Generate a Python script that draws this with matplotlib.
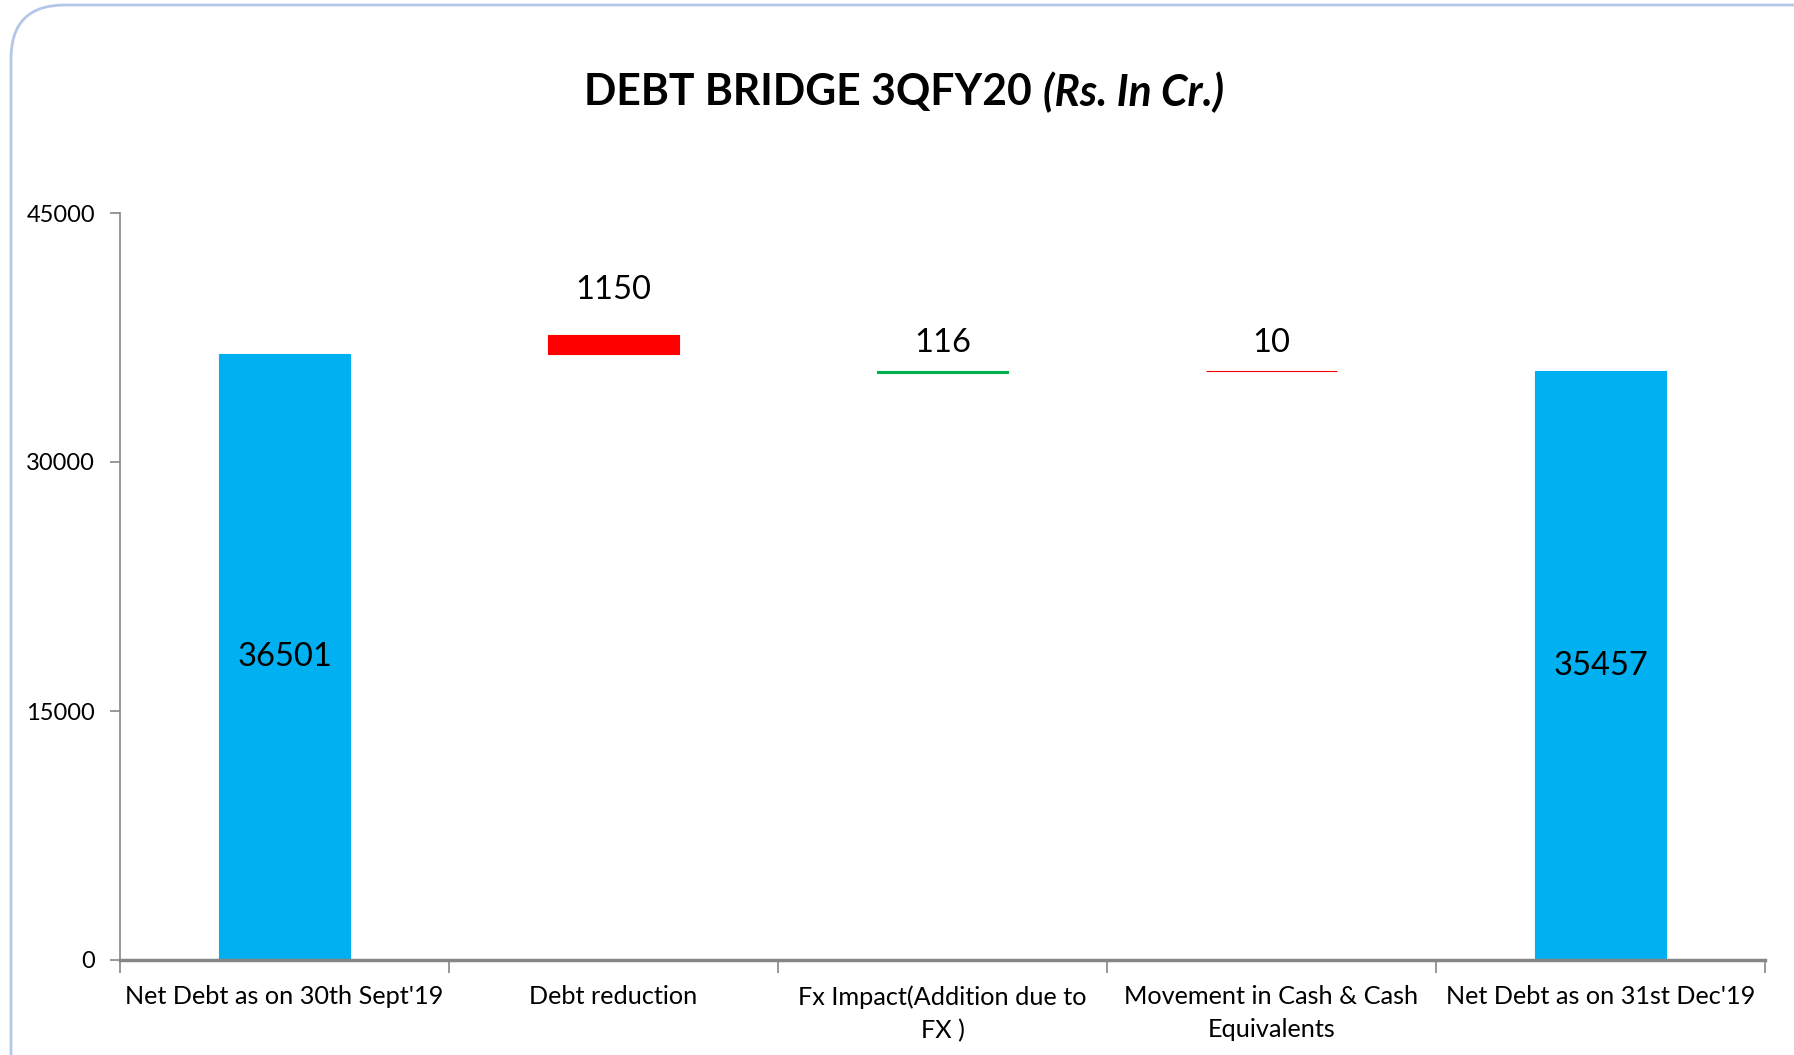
import matplotlib
matplotlib.use("Agg")
import matplotlib.pyplot as plt
from matplotlib.patches import FancyBboxPatch

categories = ["Net Debt as on 30th Sept'19", "Debt reduction",
              "Fx Impact(Addition due to\nFX )", "Movement in Cash & Cash\nEquivalents",
              "Net Debt as on 31st Dec'19"]
values = [36501, 1150, 116, 10, 35457]
bases = [0, 36501, 35351, 35457, 0]
colors = ["#00B0F0", "#FF0000", "#00B050", "#FF0000", "#00B0F0"]
yticks = [0, 15000, 30000, 45000]

plt.rcParams['font.family'] = ['Lato', 'DejaVu Sans']

fig = plt.figure(figsize=(17.94, 10.55), dpi=100)
W, H = 1794, 1055

# rounded border
border = FancyBboxPatch((11 / W, -0.2), 1.2, 1.2 - 5 / H,
                        boxstyle="round,pad=0,rounding_size=0.03",
                        transform=fig.transFigure, fill=False,
                        edgecolor="#B4C7E7", linewidth=2, mutation_aspect=W / H)
fig.patches.append(border)

ax = fig.add_axes([120 / W, 1 - 960 / H, (1765 - 120) / W, (960 - 213) / H])
x = list(range(len(categories)))
ax.bar(x, values, bottom=bases, width=0.40, color=colors, edgecolor=colors,
       linewidth=0.8)

ax.set_xlim(-0.5, 4.5)
ax.set_ylim(0, 45000)
ax.set_yticks(yticks)
ax.set_yticklabels([str(v) for v in yticks], fontsize=17)
ax.set_xticks(x)
ax.set_xticklabels(categories, fontsize=18.2, linespacing=1.55)
ax.set_xticks([i - 0.5 for i in range(6)], minor=True)
ax.tick_params(axis='x', which='major', length=0, pad=18)
ax.tick_params(axis='x', which='minor', length=9, width=1.2, color="#868686")
ax.tick_params(axis='y', length=7, width=1.2, color="#868686", pad=11)
for s in ['top', 'right']:
    ax.spines[s].set_visible(False)
ax.spines['left'].set_color("#868686")
ax.spines['left'].set_linewidth(1.2)
ax.spines['bottom'].set_color("#868686")
ax.spines['bottom'].set_linewidth(2.5)

# labels
for i in [0, 4]:
    ax.text(x[i], bases[i] + values[i] / 2, str(values[i]), ha='center', va='center',
            fontsize=23.5)
offs = {1: 45, 2: 28, 3: 28}
for i, o in offs.items():
    ax.annotate(str(values[i]), (x[i], bases[i] + values[i]), xytext=(0, o * 0.72),
                textcoords='offset points', ha='center', va='center', fontsize=23.5)

# title in two parts: bold + bold italic
renderer = fig.canvas.get_renderer()
t1 = fig.text(0, 1 - 92 / H, "DEBT BRIDGE 3QFY20 ", ha='left', va='center',
              fontsize=30.7, fontweight='bold')
t2 = fig.text(0, 1 - 92 / H, "(Rs. In Cr.)", ha='left', va='center',
              fontsize=30.7, fontweight='bold', fontstyle='italic')
w1 = t1.get_window_extent(renderer).width
w2 = t2.get_window_extent(renderer).width
cx = 904
start = cx - (w1 + w2) / 2
t1.set_x(start / W)
t2.set_x((start + w1) / W)

fig.savefig("out.png", dpi=100)
